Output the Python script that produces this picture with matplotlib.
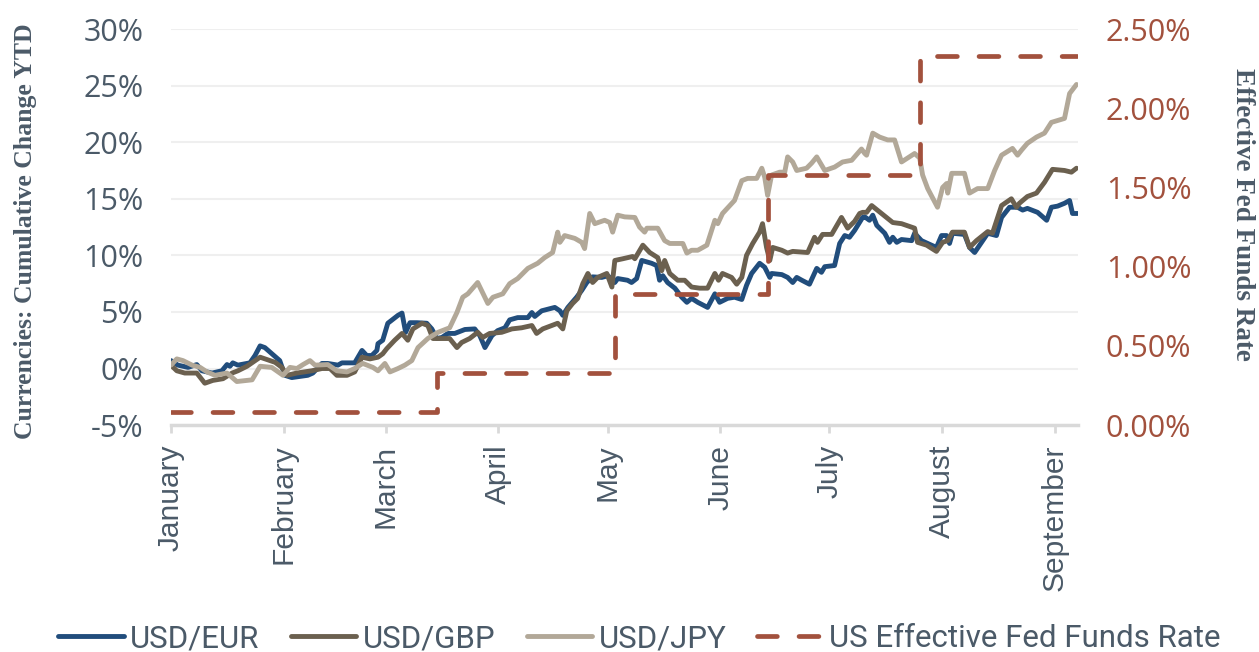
import pandas as pd
import matplotlib
matplotlib.use('Agg')
import matplotlib.pyplot as plt
from matplotlib.ticker import FuncFormatter

# days after 1 Jan 2022 and cumulative change YTD in %
eur_days = [0, 1.9, 4.7, 7.1, 8.5, 11.3, 14.0, 15.4, 16.2, 17.0, 18.4, 21.7, 23.1, 24.5, 25.8,
            29.9, 31.3, 33.2, 37.6, 39.0, 41.5, 43.1, 45.9, 47.0, 50.5, 52.5, 53.8, 55.2, 56.6,
            56.9, 58.2, 59.6, 62.4, 63.5, 64.5, 65.7, 67.6, 70.3, 71.7, 73.1, 74.5, 76.1, 78.0,
            80.8, 83.5, 84.9, 86.3, 88.2, 89.8, 91.8, 93.1, 95.3, 98.1, 99.2, 100.0, 101.9, 105.5,
            106.9, 107.7, 109.1, 111.5, 112.9, 114.3, 115.9, 118.4, 120.1, 122.0, 122.8, 125.5,
            126.6, 128.0, 129.4, 132.1, 133.5, 134.3, 135.2, 136.5, 138.5, 140.4, 141.8, 143.1,
            144.8, 147.5, 149.5, 150.8, 153.0, 154.9, 156.9, 158.2, 159.6, 161.8, 163.2, 164.6,
            165.1, 167.9, 169.5, 170.9, 172.0, 173.4, 175.5, 177.5, 178.8, 179.7, 182.4, 183.8,
            185.2, 186.5, 187.9, 190.1, 190.7, 192.0, 192.9, 194.0, 196.2, 197.5, 198.4, 199.5,
            200.8, 203.6, 204.4, 206.3, 210.4, 211.8, 213.2, 214.0, 214.8, 218.1, 219.5, 220.9,
            222.8, 224.5, 226.9, 228.3, 230.5, 232.7, 234.1, 235.4, 238.2, 240.7, 242.0, 243.7,
            245.6, 247.0, 247.8, 249.2]
eur_vals = [0.7, 0.3, 0.1, 0.35, -0.2, -0.4, -0.2, 0.35, 0.2, 0.5, 0.3, 0.5, 1.15, 2.0, 1.85,
            0.7, -0.6, -0.8, -0.6, -0.4, 0.45, 0.45, 0.3, 0.5, 0.5, 1.6, 1.15, 1.15, 1.6,
            2.2, 2.5, 4.0, 4.7, 4.9, 3.2, 4.05, 4.05, 4.0, 3.5, 2.65, 2.75, 3.1, 3.1,
            3.45, 3.5, 2.9, 1.85, 2.9, 3.35, 3.6, 4.3, 4.5, 4.5, 4.95, 4.6, 5.1, 5.4,
            5.1, 4.7, 5.4, 6.3, 6.9, 7.6, 8.1, 8.05, 8.2, 7.6, 7.95, 7.8,
            7.6, 7.95, 9.55, 9.3, 9.1, 7.8, 8.2, 7.6, 7.1, 6.3, 5.85, 6.2,
            5.85, 5.4, 6.6, 5.85, 6.2, 6.3, 6.1, 7.35, 8.4, 9.3, 8.95, 8.05,
            8.4, 8.3, 8.05, 7.6, 8.05, 7.8, 7.45, 8.85, 8.5, 9.0, 9.1, 11.05,
            11.75, 11.6, 12.2, 13.35, 13.4, 13.1, 13.55, 12.65, 11.95, 11.15, 11.6, 11.15,
            11.4, 11.3, 11.95, 11.3, 10.7, 11.75, 11.75, 11.05, 11.95, 11.85, 10.7, 10.25,
            11.15, 11.95, 11.75, 13.35, 14.25, 14.25, 14.0, 14.15, 13.8, 13.1, 14.25, 14.35,
            14.6, 14.85, 13.7, 13.7]

gbp_days = [0, 1.6, 3.8, 7.1, 9.3, 11.5, 14.3, 16.8, 18.4, 20.9, 24.5, 28.6, 30.5, 31.9, 34.6,
            38.7, 41.5, 43.7, 45.6, 48.4, 50.5, 52.5, 54.7, 56.9, 58.2, 59.3, 61.5, 63.5, 65.1,
            66.5, 69.0, 70.6, 72.0, 74.7, 76.6, 78.6, 79.9, 82.1, 84.3, 85.7, 87.6, 90.9, 93.7,
            96.4, 99.2, 100.5, 102.2, 104.7, 106.3, 107.7, 108.8, 110.4, 111.8, 113.2, 114.6,
            115.9, 117.3, 119.8, 121.2, 122.0, 124.2, 126.9, 127.5, 129.7, 131.6, 133.8, 134.9,
            135.7, 137.1, 139.3, 141.2, 143.1, 145.3, 147.5, 149.5, 150.5, 151.6, 154.1, 155.5,
            156.9, 158.2, 159.9, 161.8, 162.6, 163.7, 164.6, 165.4, 167.9, 169.5, 170.9, 175.0,
            176.9, 177.7, 179.1, 181.6, 184.3, 186.0, 187.9, 189.3, 190.1, 191.2, 192.6, 195.3,
            198.4, 200.8, 204.4, 205.2, 207.7, 210.4, 212.1, 213.5, 214.8, 218.1, 219.5, 221.4,
            224.5, 225.8, 228.3, 231.0, 232.4, 233.2, 235.4, 237.9, 240.1, 242.3, 245.6, 247.5,
            248.9]
gbp_vals = [0.3, -0.2, -0.4, -0.4, -1.3, -1.05, -0.9, -0.4, -0.2, 0.2, 1.0, 0.55, 0.1, -0.6, -0.4,
            -0.2, 0.0, 0.0, -0.6, -0.6, -0.3, 1.0, 0.85, 1.0, 1.3, 1.75, 2.5, 3.1, 2.5,
            3.5, 4.0, 3.8, 2.65, 2.65, 2.65, 1.85, 2.3, 2.65, 3.2, 2.75, 3.1, 3.2, 3.5,
            3.6, 3.8, 3.1, 3.5, 3.8, 4.0, 3.5, 5.1, 5.75, 6.2, 7.5, 8.4,
            7.6, 8.05, 8.4, 7.2, 9.55, 9.7, 9.9, 9.7, 10.9, 10.25, 9.8, 8.65,
            9.55, 8.4, 7.8, 7.8, 7.2, 7.1, 7.1, 8.4, 7.8, 8.4, 8.05, 7.45,
            8.05, 10.0, 11.05, 12.05, 12.8, 10.7, 9.55, 10.7, 10.45, 10.2, 10.35, 10.25,
            11.6, 11.15, 11.85, 11.85, 13.35, 12.4, 13.0, 13.7, 13.8, 13.8, 14.4, 13.7,
            12.9, 12.8, 12.4, 11.15, 10.9, 10.35, 11.15, 11.3, 12.05, 12.05, 10.7, 11.3,
            12.1, 11.95, 14.4, 15.0, 14.25, 14.6, 15.2, 15.5, 16.45, 17.6, 17.5, 17.35,
            17.7]

jpy_days = [0, 1.6, 3.3, 5.8, 8.0, 9.9, 12.1, 15.4, 18.1, 22.3, 24.5, 27.7, 30.8, 32.7, 34.6,
            36.3, 38.2, 39.6, 43.1, 45.6, 48.4, 50.5, 52.7, 55.5, 56.9, 58.8, 60.2, 62.4, 64.3,
            66.2, 67.9, 70.6, 73.4, 76.6, 78.6, 80.2, 81.6, 84.3, 87.1, 88.5, 91.2, 93.1, 95.3,
            98.1, 100.8, 102.7, 104.9, 106.3, 106.9, 108.2, 111.0, 112.9, 113.7, 115.1, 116.5,
            119.2, 120.6, 121.4, 122.8, 124.7, 127.5, 128.8, 130.2, 130.8, 133.8, 135.7, 137.1,
            140.7, 141.8, 143.1, 144.8, 147.3, 149.5, 150.3, 151.6, 154.9, 156.9, 158.5, 161.0,
            162.4, 163.2, 164.0, 165.1, 167.3, 168.7, 169.5, 170.9, 172.0, 174.7, 176.1, 177.5,
            179.7, 182.4, 184.6, 187.1, 189.8, 190.7, 191.2, 192.9, 194.8, 197.0, 198.9, 200.8,
            202.5, 204.4, 205.8, 206.6, 208.0, 210.7, 212.1, 213.2, 213.5, 214.6, 218.1, 219.5,
            221.7, 224.5, 226.4, 228.3, 231.3, 232.7, 233.8, 235.4, 237.9, 240.1, 242.0, 245.6,
            247.0, 248.9]
jpy_vals = [0.3, 0.85, 0.7, 0.3, 0.1, -0.3, -0.6, -0.4, -1.15, -1.0, 0.2, 0.1, -0.6, 0.1, 0.0,
            0.35, 0.7, 0.3, 0.35, -0.2, -0.3, 0.0, 0.45, 0.1, -0.2, 0.45, -0.3, 0.0, 0.3,
            0.7, 1.85, 2.65, 3.2, 3.6, 4.95, 6.3, 6.6, 7.6, 5.75, 6.3, 6.6, 7.5, 7.95,
            8.85, 9.3, 9.8, 10.25, 12.05, 11.15, 11.75, 11.5, 11.15, 10.6, 13.7, 12.8,
            13.1, 12.9, 12.05, 13.55, 13.4, 13.35, 12.5, 12.05, 12.4, 12.4, 11.3, 11.05,
            11.05, 10.2, 10.45, 10.45, 10.9, 13.1, 12.8, 13.7, 14.85, 16.6, 16.8, 16.8,
            17.7, 16.9, 15.3, 17.1, 17.35, 17.35, 18.7, 18.25, 17.5, 17.7, 18.15, 18.7,
            17.5, 17.8, 18.25, 18.4, 19.4, 19.0, 18.85, 20.8, 20.45, 20.2, 20.2, 18.25,
            18.6, 19.0, 18.6, 17.1, 15.9, 14.25, 16.0, 16.35, 15.5, 17.25, 17.25, 15.5,
            15.9, 15.9, 17.5, 18.85, 19.45, 18.85, 19.3, 19.9, 20.45, 20.8, 21.75, 22.1,
            24.3, 25.1]

# effective fed funds rate, %
fed_days = [0, 73, 122, 164, 206, 249]
fed_rate = [0.08, 0.33, 0.83, 1.58, 2.33, 2.33]

months = ['January', 'February', 'March', 'April', 'May', 'June', 'July', 'August', 'September']

start = pd.Timestamp('2022-01-01')
def to_dates(days):
    return start + pd.to_timedelta(days, unit='D')

slate = '#4b5a68'
rust = '#a2513d'

plt.rcParams['font.family'] = ['Open Sans', 'DejaVu Sans']

fig = plt.figure(figsize=(12.59, 6.52), dpi=100)
ax = fig.add_axes([0.1358, 0.348, 0.7204, 0.6075])
ax2 = ax.twinx()

l1, = ax.plot(to_dates(eur_days), eur_vals, color='#214d7c', lw=3.5, label='USD/EUR',
              solid_joinstyle='round', solid_capstyle='round')
l2, = ax.plot(to_dates(gbp_days), gbp_vals, color='#6b604f', lw=3.5, label='USD/GBP',
              solid_joinstyle='round', solid_capstyle='round')
l3, = ax.plot(to_dates(jpy_days), jpy_vals, color='#b2a898', lw=3.5, label='USD/JPY',
              solid_joinstyle='round', solid_capstyle='round')
l4, = ax2.plot(to_dates(fed_days), fed_rate, color=rust, lw=3.4, drawstyle='steps-post',
               dashes=(4.2, 4.6), dash_capstyle='round', label='US Effective Fed Funds Rate')

ax.set_ylim(-5, 30)
ax.set_yticks(range(-5, 31, 5))
ax.yaxis.set_major_formatter(FuncFormatter(lambda v, p: f'{v:.0f}%'))
ax2.set_ylim(0, 2.5)
ax2.set_yticks([0, 0.5, 1.0, 1.5, 2.0, 2.5])
ax2.yaxis.set_major_formatter(FuncFormatter(lambda v, p: f'{v:.2f}%'))

ax.set_xlim(start, start + pd.Timedelta(days=249.3))
month_ticks = pd.date_range('2022-01-01', periods=9, freq='MS')
ax.set_xticks(month_ticks)
ax.set_xticklabels(months, rotation=90, color=slate, fontsize=21.5, family='Liberation Sans')

ax.grid(axis='y', color='#efefef', lw=1.5)
ax.set_axisbelow(True)
for a in (ax, ax2):
    for s in ('top', 'left', 'right', 'bottom'):
        a.spines[s].set_visible(False)
ax.spines['bottom'].set_visible(True)
ax.spines['bottom'].set_color('#d9d9d9')
ax.spines['bottom'].set_linewidth(2.5)
ax.tick_params(axis='x', direction='out', length=6, width=2, color='#d9d9d9', pad=8)
ax.tick_params(axis='y', length=0, labelsize=22, labelcolor=slate, pad=20)
ax2.tick_params(axis='y', length=0, labelsize=22, labelcolor=rust, pad=20)

ax.set_ylabel('Currencies: Cumulative Change YTD', family='Liberation Serif', weight='bold',
              fontsize=18.5, color=slate)
ax.yaxis.set_label_coords(-0.148, 0.49)
ax2.set_ylabel('Effective Fed Funds Rate', family='Liberation Serif', weight='bold',
               fontsize=19.5, color=slate, rotation=270, va='bottom')
ax2.yaxis.set_label_coords(1.168, 0.533)

fig.legend(handles=[l1, l2, l3, l4], loc='lower center', bbox_to_anchor=(0.508, -0.045), ncol=4,
           frameon=False, handlelength=2.1, columnspacing=1.0, handletextpad=0.2,
           labelcolor=slate, prop={'family': 'Roboto', 'size': 22.5})

fig.savefig('out.png', dpi=100)
